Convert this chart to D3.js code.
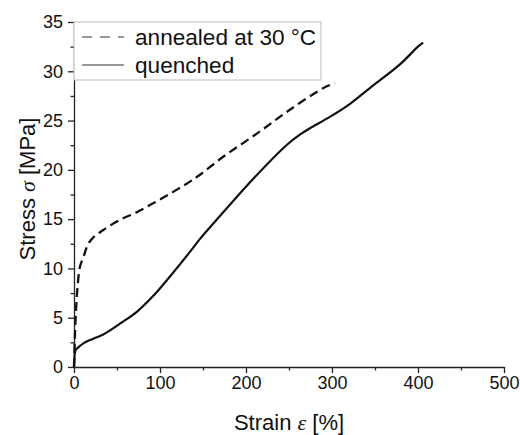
<!DOCTYPE html>
<html>
<head>
<meta charset="utf-8">
<script src="https://cdn.jsdelivr.net/npm/d3@7/dist/d3.min.js"></script>
<style>
  body { margin: 0; background: #fff; }
  text { font-family: "Liberation Sans", Arial, sans-serif; fill: #111; }
</style>
</head>
<body>
<div id="chart"></div>
<script>
"use strict";

// curves: strain [%] / stress [MPa]
const annealedStrain = [0, 1, 2.5, 4.3, 7, 11.6, 16, 22, 34, 53, 73, 92, 112, 131, 146.5, 173, 213, 251, 290, 303.5];
const annealedStress = [0, 3, 6, 8.3, 10.2, 11.3, 12.4, 13.1, 13.9, 14.9, 15.7, 16.6, 17.6, 18.6, 19.5, 21.3, 23.7, 26.1, 28.3, 28.8];

const quenchedStrain = [0, 0.5, 1.2, 2.5, 5, 11, 22.5, 34, 53.5, 73, 92, 106, 135, 146.5, 175.6, 208.5, 247, 263, 274, 298, 321, 344, 379, 400, 406];
const quenchedStress = [0, 1.0, 1.5, 1.8, 2.0, 2.4, 2.87, 3.3, 4.4, 5.6, 7.2, 8.6, 11.7, 13.0, 15.9, 19.1, 22.5, 23.6, 24.2, 25.4, 26.7, 28.3, 30.7, 32.5, 32.9];

const xTicks = [0, 100, 200, 300, 400, 500];
const yTicks = [0, 5, 10, 15, 20, 25, 30, 35];
const seriesNames = ["annealed at 30 °C", "quenched"];

const msm = {
    width: 520,
    height: 435,
    left: 74,
    right: 504,
    top: 22,
    bottom: 367
};

const svg = d3.select("#chart")
    .append("svg")
    .attr("width", msm.width)
    .attr("height", msm.height);

const xScale = d3.scaleLinear().domain([0, 500]).range([msm.left, msm.right]);
const yScale = d3.scaleLinear().domain([0, 35]).range([msm.bottom, msm.top]);

// minor ticks first, then the major axis on top
svg.append("g")
    .attr("transform", "translate(0," + msm.bottom + ")")
    .call(d3.axisBottom(xScale).tickValues(d3.range(50, 500, 100)).tickSize(3.5).tickFormat(""))
    .call(g => g.select(".domain").remove());
svg.append("g")
    .attr("transform", "translate(" + msm.left + ",0)")
    .call(d3.axisLeft(yScale).tickValues(d3.range(2.5, 35, 5)).tickSize(3.5).tickFormat(""))
    .call(g => g.select(".domain").remove());

svg.append("g")
    .attr("transform", "translate(0," + msm.bottom + ")")
    .call(d3.axisBottom(xScale).tickValues(xTicks).tickSize(6).tickSizeOuter(0).tickPadding(3));
svg.append("g")
    .attr("transform", "translate(" + msm.left + ",0)")
    .call(d3.axisLeft(yScale).tickValues(yTicks).tickSize(6).tickSizeOuter(0).tickPadding(5));

svg.selectAll(".tick line, .domain").attr("stroke", "#222").attr("stroke-width", 1.3);
svg.selectAll(".tick text")
    .style("font-family", "Liberation Sans, Arial, sans-serif")
    .style("font-size", "18px")
    .attr("fill", "#111");

// legend box
svg.append("rect")
    .attr("x", msm.left)
    .attr("y", msm.top)
    .attr("width", 247)
    .attr("height", 58)
    .attr("fill", "#fff")
    .attr("stroke", "#bbb")
    .attr("stroke-width", 1);

const annealed = annealedStrain.map((s, i) => [s, annealedStress[i]]);
const quenched = quenchedStrain.map((s, i) => [s, quenchedStress[i]]);

const line = d3.line()
    .x(d => xScale(d[0]))
    .y(d => yScale(d[1]))
    .curve(d3.curveCatmullRom);

svg.append("path")
    .datum(annealed)
    .attr("d", line)
    .attr("fill", "none")
    .attr("stroke", "#111")
    .attr("stroke-width", 2.3)
    .attr("stroke-dasharray", "9,5");

svg.append("path")
    .datum(quenched)
    .attr("d", line)
    .attr("fill", "none")
    .attr("stroke", "#111")
    .attr("stroke-width", 2.2);

// legend entries
const legend = svg.append("g");
seriesNames.forEach((name, i) => {
    let y = 37 + i * 28;
    legend.append("line")
        .attr("x1", 82).attr("x2", 124)
        .attr("y1", y).attr("y2", y)
        .attr("stroke", "#333")
        .attr("stroke-width", 1.2)
        .attr("stroke-dasharray", i == 0 ? "10,8" : null);
    legend.append("text")
        .attr("x", 135)
        .attr("y", y + 8)
        .style("font-size", "22.6px")
        .text(name);
});

// axis titles
const xTitle = svg.append("text")
    .attr("x", (msm.left + msm.right) / 2)
    .attr("y", 430)
    .attr("text-anchor", "middle")
    .style("font-size", "22px");
xTitle.append("tspan").text("Strain ");
xTitle.append("tspan").style("font-family", "Liberation Serif, serif").style("font-style", "italic").text("ε");
xTitle.append("tspan").text(" [%]");

const yTitle = svg.append("text")
    .attr("transform", "translate(35," + 189 + ") rotate(-90)")
    .attr("text-anchor", "middle")
    .style("font-size", "22px");
yTitle.append("tspan").text("Stress ");
yTitle.append("tspan").style("font-family", "Liberation Serif, serif").style("font-style", "italic").text("σ");
yTitle.append("tspan").text(" [MPa]");
</script>
</body>
</html>
